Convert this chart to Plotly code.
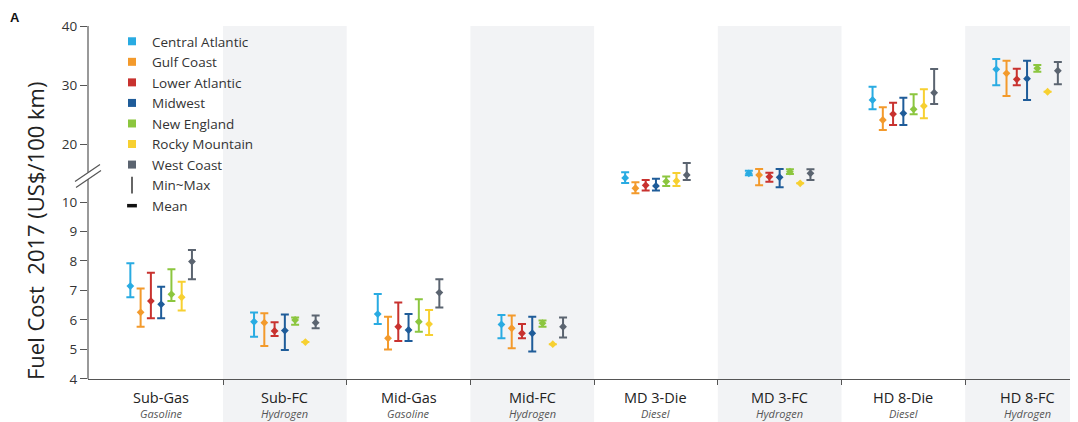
import plotly.graph_objects as go

categories = ["Sub-Gas", "Sub-FC", "Mid-Gas", "Mid-FC", "MD 3-Die", "MD 3-FC", "HD 8-Die", "HD 8-FC"]
fuels = ["Gasoline", "Hydrogen", "Gasoline", "Hydrogen", "Diesel", "Hydrogen", "Diesel", "Hydrogen"]
regions = ["Central Atlantic", "Gulf Coast", "Lower Atlantic", "Midwest", "New England", "Rocky Mountain", "West Coast"]
colors = ["#29ABE2", "#F39A2C", "#C8322F", "#1F5C99", "#8CC63F", "#F7D031", "#5B6470"]

central_atlantic_min = [6.77, 5.43, 5.86, 5.38, 13.4, 14.69, 25.88, 29.95]
central_atlantic_mean = [7.15, 5.94, 6.2, 5.85, 14.25, 15.03, 27.46, 32.66]
central_atlantic_max = [7.92, 6.25, 6.88, 6.17, 15.2, 15.47, 29.71, 34.41]

gulf_coast_min = [5.77, 5.12, 5.0, 5.04, 11.65, 13.0, 22.37, 28.14]
gulf_coast_mean = [6.26, 5.91, 5.38, 5.72, 12.5, 14.75, 24.07, 31.98]
gulf_coast_max = [7.07, 6.23, 6.11, 6.15, 13.5, 15.76, 26.22, 34.12]

lower_atlantic_min = [6.06, 5.46, 5.29, 5.38, 12.1, 13.61, 23.22, 29.95]
lower_atlantic_mean = [6.64, 5.63, 5.77, 5.55, 13.0, 14.46, 25.08, 30.97]
lower_atlantic_max = [7.6, 5.92, 6.59, 5.86, 13.9, 15.14, 27.0, 32.76]

midwest_min = [6.06, 4.98, 5.29, 4.93, 12.1, 12.66, 23.22, 27.46]
midwest_mean = [6.53, 5.64, 5.66, 5.55, 12.9, 14.36, 25.2, 31.07]
midwest_max = [7.13, 6.19, 6.2, 6.11, 14.1, 15.76, 27.85, 34.12]

new_england_min = [6.64, 5.84, 5.6, 5.77, 12.9, 14.92, 25.03, 32.25]
new_england_mean = [6.87, 6.0, 5.94, 5.89, 13.65, 15.31, 25.88, 32.83]
new_england_max = [7.72, 6.08, 6.7, 5.98, 14.5, 15.71, 28.42, 33.39]

rocky_mountain_min = [6.32, 5.25, 5.49, 5.18, 12.9, 13.34, 24.36, 28.86]
rocky_mountain_mean = [6.77, 5.25, 5.86, 5.18, 13.75, 13.34, 26.44, 28.86]
rocky_mountain_max = [7.3, 5.25, 6.34, 5.18, 15.1, 13.34, 29.27, 28.86]

west_coast_min = [7.38, 5.72, 6.42, 5.41, 13.9, 13.9, 26.78, 30.12]
west_coast_mean = [7.98, 5.91, 6.93, 5.77, 14.75, 15.03, 28.69, 32.42]
west_coast_max = [8.37, 6.15, 7.38, 6.08, 16.8, 15.71, 32.71, 33.9]

lower_ticks = [4, 5, 6, 7, 8, 9, 10]
upper_ticks = [20, 30, 40]

series = [
    (central_atlantic_min, central_atlantic_mean, central_atlantic_max),
    (gulf_coast_min, gulf_coast_mean, gulf_coast_max),
    (lower_atlantic_min, lower_atlantic_mean, lower_atlantic_max),
    (midwest_min, midwest_mean, midwest_max),
    (new_england_min, new_england_mean, new_england_max),
    (rocky_mountain_min, rocky_mountain_mean, rocky_mountain_max),
    (west_coast_min, west_coast_mean, west_coast_max),
]

BREAK = 11.0
FONT = "Open Sans"
fig = go.Figure()

# legend-only entries
for name, col in zip(regions, colors):
    fig.add_trace(go.Scatter(x=[None], y=[None], mode="markers", name=name,
                             marker=dict(symbol="square", size=8, color=col),
                             legendgroup=name, showlegend=True))
fig.add_trace(go.Scatter(x=[None], y=[None], mode="markers", name="Min~Max",
                         marker=dict(symbol="line-ns", size=12, color="#333",
                                     line=dict(width=1.5, color="#333")),
                         showlegend=True))
fig.add_trace(go.Scatter(x=[None], y=[None], mode="markers", name="Mean",
                         marker=dict(symbol="line-ew", size=7, color="#111",
                                     line=dict(width=3.5, color="#111")),
                         showlegend=True))

step = 0.083
for j, (name, col, (mn, me, mx)) in enumerate(zip(regions, colors, series)):
    for axis in ("y", "y2"):
        xs, ys, up, dn = [], [], [], []
        for i in range(len(categories)):
            on_upper = me[i] > BREAK
            if (axis == "y2") != on_upper:
                continue
            xs.append(i + (j - 3) * step)
            ys.append(me[i])
            up.append(mx[i] - me[i])
            dn.append(me[i] - mn[i])
        fig.add_trace(go.Scatter(
            x=xs, y=ys, yaxis=axis, mode="markers", name=name,
            legendgroup=name, showlegend=False,
            marker=dict(symbol="diamond", size=6, color=col),
            error_y=dict(type="data", symmetric=False, array=up, arrayminus=dn,
                         color=col, thickness=2, width=4),
            hoverinfo="skip"))

# page geometry (the page body adds an 8px offset)
OFF = 8
PAGE_W, PAGE_H = 1078, 422
PLOT_L, PLOT_T, PLOT_B = 88, 26, 379      # page pixels of plot area
W, H = PAGE_W - OFF, PAGE_H - OFF
L, T = PLOT_L - OFF, PLOT_T - OFF
B = H - (PLOT_B - OFF)
pw, ph = PAGE_W - PLOT_L, PLOT_B - PLOT_T


def px(xp):
    return (xp - PLOT_L) / pw


def py(yp):
    return (PLOT_B - yp) / ph


x_range = [0.5 + (PLOT_L - 223) / 123.7, 0.5 + (PAGE_W - 223) / 123.7]


def xfrac(v):
    return (v - x_range[0]) / (x_range[1] - x_range[0])


shapes = []
for i in range(len(categories)):
    if i % 2 == 1:
        shapes.append(dict(type="rect", xref="paper", yref="paper",
                           x0=xfrac(i - 0.5), x1=min(xfrac(i + 0.5), 1.0),
                           y0=py(PAGE_H), y1=1, fillcolor="#F2F3F5", line=dict(width=0),
                           layer="below"))
axis_col = "#555"
# y-axis lines with break
shapes.append(dict(type="line", xref="paper", yref="paper", x0=0, x1=0,
                   y0=py(172.5), y1=1, line=dict(color=axis_col, width=1.2)))
shapes.append(dict(type="line", xref="paper", yref="paper", x0=0, x1=0,
                   y0=0, y1=py(179), line=dict(color=axis_col, width=1.2)))
shapes.append(dict(type="line", xref="paper", yref="paper", x0=px(75), x1=px(100),
                   y0=py(181.5), y1=py(164.5), line=dict(color=axis_col, width=1.2)))
shapes.append(dict(type="line", xref="paper", yref="paper", x0=px(76), x1=px(101),
                   y0=py(187.5), y1=py(170.5), line=dict(color=axis_col, width=1.2)))

annotations = []
for i, (c, f) in enumerate(zip(categories, fuels)):
    annotations.append(dict(x=i, y=py(397), xref="x", yref="paper", text=c,
                            showarrow=False, font=dict(family=FONT, size=14.5, color="#222"),
                            xanchor="center", yanchor="middle"))
    annotations.append(dict(x=i, y=py(413), xref="x", yref="paper", text="<i>" + f + "</i>",
                            showarrow=False, font=dict(family=FONT, size=11, color="#555"),
                            xanchor="center", yanchor="middle"))
annotations.append(dict(x=px(35), y=py(231), xref="paper", yref="paper",
                        text="Fuel Cost  2017 (US$/100 km)", textangle=-90,
                        showarrow=False, font=dict(family=FONT, size=22, color="#222"),
                        xanchor="center", yanchor="middle"))
annotations.append(dict(x=px(15), y=py(17), xref="paper", yref="paper", text="<b>A</b>",
                        showarrow=False, font=dict(family="Liberation Sans", size=13, color="#111"),
                        xanchor="center", yanchor="middle"))

low_top_px, up_bot_px = 180, 198
fig.update_layout(
    width=W, height=H,
    margin=dict(l=L, r=0, t=T, b=B, pad=0),
    paper_bgcolor="white", plot_bgcolor="rgba(0,0,0,0)",
    font=dict(family=FONT, color="#333"),
    showlegend=True,
    legend=dict(x=px(112), y=py(26), xanchor="left", yanchor="top",
                bgcolor="rgba(0,0,0,0)", font=dict(family=FONT, size=13.5, color="#333"),
                itemwidth=30, tracegroupgap=0, borderwidth=0),
    xaxis=dict(range=x_range,
               showgrid=False, zeroline=False, showline=True, linecolor=axis_col, linewidth=1.2,
               tickvals=[i + 0.5 for i in range(len(categories))], ticks="outside",
               ticklen=5, tickcolor=axis_col, showticklabels=False, anchor="y"),
    yaxis=dict(domain=[0, py(low_top_px)],
               range=[3.999, 4 + (PLOT_B - low_top_px) / 29.5],
               tickvals=lower_ticks, ticks="outside", ticklen=7, tickcolor=axis_col,
               showgrid=False, zeroline=False, showline=False,
               tickfont=dict(family=FONT, size=13.5, color="#333")),
    yaxis2=dict(domain=[py(up_bot_px), 1],
                range=[40 - (up_bot_px - PLOT_T) / 5.9, 40.001],
                tickvals=upper_ticks, ticks="outside", ticklen=7, tickcolor=axis_col,
                showgrid=False, zeroline=False, showline=False, anchor="x",
                tickfont=dict(family=FONT, size=13.5, color="#333")),
    shapes=shapes,
    annotations=annotations,
)

fig.write_html("out.html")
